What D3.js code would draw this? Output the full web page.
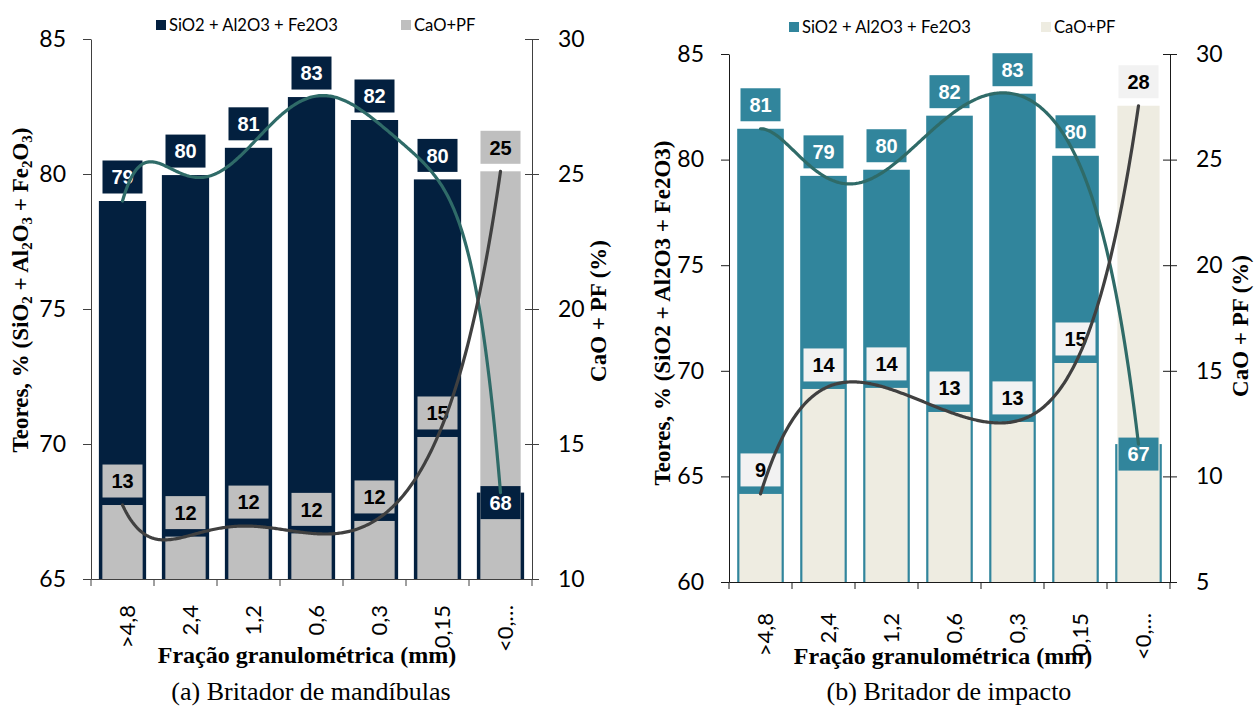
<!DOCTYPE html>
<html>
<head>
<meta charset="utf-8">
<script src="https://cdn.jsdelivr.net/npm/d3@7"></script>
<style>
  body { margin: 0; background: #ffffff; }
  svg { display: block; }
</style>
</head>
<body>
<svg id="chart" width="1256" height="708"></svg>
<script>
// Granulometric fractions (mm)
const categories = [">4,8", "2,4", "1,2", "0,6", "0,3", "0,15", "<0,…"];

// (a) Jaw crusher
const mandibulasSiAlFe = [79.0, 79.96, 80.97, 82.85, 82.0, 79.8, 68.2];
const mandibulasCaoPf = [12.74, 11.57, 11.96, 11.69, 12.15, 15.26, 25.1];

// (b) Impact crusher
const impactoSiAlFe = [81.46, 79.23, 79.52, 82.08, 83.12, 80.18, 66.53];
const impactoCaoPf = [9.17, 14.14, 14.19, 13.05, 12.58, 15.37, 27.55];

// Axis ticks
const mandibulasLeftTicks = [65, 70, 75, 80, 85];
const mandibulasRightTicks = [10, 15, 20, 25, 30];
const impactoLeftTicks = [60, 65, 70, 75, 80, 85];
const impactoRightTicks = [5, 10, 15, 20, 25, 30];

const legendLabels = ["SiO2 + Al2O3 + Fe2O3", "CaO+PF"];

const svg = d3.select("#chart");
const tickFont = "Lato, 'Open Sans', sans-serif";
const serifFont = "'Liberation Serif', 'Times New Roman', serif";
const labelFont = "'Liberation Sans', Arial, sans-serif";

// Least-squares polynomial trendline (centred abscissa for stability)
function polyTrend(values, order) {
  const n = values.length;
  const mid = (n - 1) / 2;
  const m = Math.min(order, n - 1) + 1;
  const A = Array.from({ length: m }, () => new Array(m + 1).fill(0));
  values.forEach((v, i) => {
    const t = i - mid;
    const p = [];
    for (let k = 0; k < m; k++) p.push(Math.pow(t, k));
    for (let r = 0; r < m; r++) {
      for (let c = 0; c < m; c++) A[r][c] += p[r] * p[c];
      A[r][m] += p[r] * v;
    }
  });
  for (let col = 0; col < m; col++) {
    let piv = col;
    for (let r = col + 1; r < m; r++) if (Math.abs(A[r][col]) > Math.abs(A[piv][col])) piv = r;
    [A[col], A[piv]] = [A[piv], A[col]];
    for (let r = 0; r < m; r++) {
      if (r === col) continue;
      const f = A[r][col] / A[col][col];
      for (let c = col; c <= m; c++) A[r][c] -= f * A[col][c];
    }
  }
  const coef = A.map((row, i) => row[m] / row[i]);
  return t => coef.reduce((s, a, k) => s + a * Math.pow(t - mid, k), 0);
}

function drawPanel(cfg) {
  const g = svg.append("g");
  const x = d3.scaleBand().domain(categories).range([cfg.left, cfg.right]).padding(0);
  const bw = x.bandwidth();
  const yL = d3.scaleLinear().domain(d3.extent(cfg.leftTicks)).range([cfg.bottom, cfg.top]);
  const yR = d3.scaleLinear().domain(d3.extent(cfg.rightTicks)).range([cfg.bottom, cfg.top]);
  const fmt = d3.format(".0f");

  const mainW = bw * cfg.mainWidth;
  const secW = bw * cfg.secWidth;

  // primary columns (SiO2 + Al2O3 + Fe2O3)
  g.append("g").selectAll("rect").data(cfg.main).join("rect")
    .attr("x", (d, i) => x(categories[i]) + (bw - mainW) / 2)
    .attr("width", mainW)
    .attr("y", d => yL(d))
    .attr("height", d => cfg.bottom - yL(d))
    .attr("fill", cfg.mainColor);

  // secondary columns (CaO + PF), drawn in front
  g.append("g").selectAll("rect").data(cfg.sec).join("rect")
    .attr("x", (d, i) => x(categories[i]) + (bw - secW) / 2)
    .attr("width", secW)
    .attr("y", d => yR(d))
    .attr("height", d => cfg.bottom - yR(d))
    .attr("fill", cfg.secColor);

  // value labels; a back column hidden by the front one gets its label just inside its top
  const boxW = 40, boxH = 33, gap = 7.5;
  function labels(values, scale, front, frontScale, fill, textFill) {
    const lg = g.append("g");
    values.forEach((v, i) => {
      const cx = x(categories[i]) + bw / 2;
      const top = scale(v);
      const hidden = front ? frontScale(front[i]) < top - boxH : false;
      const cy = hidden ? top + 10 : top - gap - boxH / 2;
      lg.append("rect")
        .attr("x", cx - boxW / 2).attr("y", cy - boxH / 2)
        .attr("width", boxW).attr("height", boxH)
        .attr("fill", fill);
      lg.append("text")
        .attr("x", cx).attr("y", cy).attr("dy", "0.36em")
        .attr("text-anchor", "middle")
        .attr("font-family", labelFont).attr("font-weight", "bold")
        .attr("font-size", 20).attr("fill", textFill)
        .text(fmt(v));
    });
  }
  labels(cfg.main, yL, cfg.sec, yR, cfg.mainLabelFill, "#ffffff");
  labels(cfg.sec, yR, null, null, cfg.secLabelFill, "#000000");

  // order-6 polynomial trendlines
  const n = categories.length;
  const xt = d3.scaleLinear().domain([0, n - 1])
    .range([x(categories[0]) + bw / 2, x(categories[n - 1]) + bw / 2]);
  const ts = d3.range(0, n - 1 + 1e-9, 0.02);
  function trend(values, scale, color) {
    const f = polyTrend(values, 6);
    g.append("path")
      .datum(ts)
      .attr("d", d3.line().x(t => xt(t)).y(t => scale(f(t))))
      .attr("fill", "none")
      .attr("stroke", color)
      .attr("stroke-width", 3.2)
      .attr("stroke-linecap", "round");
  }
  trend(cfg.main, yL, cfg.mainTrend);
  trend(cfg.sec, yR, cfg.secTrend);

  // axes
  const axisColor = cfg.axisColor;
  const leftAxis = g.append("g")
    .attr("transform", `translate(${cfg.left},0)`)
    .call(d3.axisLeft(yL).tickValues(cfg.leftTicks).tickSize(8).tickSizeOuter(0).tickPadding(17));
  const rightAxis = g.append("g")
    .attr("transform", `translate(${cfg.right},0)`)
    .call(d3.axisRight(yR).tickValues(cfg.rightTicks).tickSize(7).tickSizeOuter(0).tickPadding(19));
  rightAxis.selectAll(".tick line").attr("x1", -7);

  const bottomAxis = g.append("g")
    .attr("transform", `translate(0,${cfg.bottom})`)
    .call(d3.axisBottom(x).tickSize(0).tickSizeOuter(0).tickPadding(0));
  bottomAxis.selectAll(".tick text")
    .attr("transform", "rotate(-90)")
    .attr("x", -cfg.labelOffset)
    .attr("y", 0)
    .attr("dy", "0.55em")
    .attr("text-anchor", "end");
  // category boundary ticks
  bottomAxis.append("g").selectAll("line")
    .data(d3.range(n + 1)).join("line")
    .attr("x1", i => cfg.left + i * bw).attr("x2", i => cfg.left + i * bw)
    .attr("y1", 0).attr("y2", 7)
    .attr("stroke", axisColor);

  [leftAxis, rightAxis, bottomAxis].forEach(a => {
    a.selectAll(".domain").attr("stroke", axisColor);
    a.selectAll(".tick line").attr("stroke", axisColor);
    a.selectAll(".tick text")
      .attr("font-family", tickFont)
      .attr("fill", "#000");
  });
  leftAxis.selectAll(".tick text").attr("font-size", 23);
  rightAxis.selectAll(".tick text").attr("font-size", 23);
  bottomAxis.selectAll(".tick text").attr("font-size", 22);

  // legend
  const lgd = g.append("g").attr("font-family", tickFont).attr("font-size", 16.6);
  cfg.legendX.forEach((lx, i) => {
    lgd.append("rect").attr("x", lx).attr("y", cfg.legendY - 11)
      .attr("width", 10).attr("height", 10)
      .attr("fill", i === 0 ? cfg.mainColor : cfg.secColor);
    lgd.append("text").attr("x", lx + 13).attr("y", cfg.legendY)
      .attr("fill", "#000").text(legendLabels[i]);
  });

  // axis titles (subscripts shifted below the baseline, then restored)
  const lt = g.append("text")
    .attr("transform", `translate(${cfg.leftTitleX},${cfg.leftTitleY}) rotate(-90)`)
    .attr("text-anchor", "middle")
    .attr("font-family", serifFont).attr("font-weight", "bold").attr("font-size", 23)
    .attr("fill", "#000");
  let shift = 0;
  cfg.leftTitle.forEach(part => {
    const span = lt.append("tspan").text(part.t);
    if (part.sub) {
      span.attr("font-size", 15).attr("dy", 4 - shift);
      shift = 4;
    } else {
      span.attr("dy", -shift);
      shift = 0;
    }
  });

  g.append("text")
    .attr("transform", `translate(${cfg.rightTitleX},${cfg.rightTitleY}) rotate(-90)`)
    .attr("text-anchor", "middle")
    .attr("font-family", serifFont).attr("font-weight", "bold").attr("font-size", 23)
    .attr("fill", "#000").text("CaO + PF (%)");

  g.append("text")
    .attr("x", cfg.xTitleX).attr("y", cfg.xTitleY)
    .attr("text-anchor", "middle")
    .attr("font-family", serifFont).attr("font-weight", "bold").attr("font-size", 24)
    .attr("fill", "#000").text("Fração granulométrica (mm)");

  g.append("text")
    .attr("x", cfg.captionX).attr("y", 700)
    .attr("text-anchor", "middle")
    .attr("font-family", serifFont).attr("font-size", 26)
    .attr("fill", "#000").text(cfg.caption);
}

drawPanel({
  main: mandibulasSiAlFe, sec: mandibulasCaoPf,
  leftTicks: mandibulasLeftTicks, rightTicks: mandibulasRightTicks,
  left: 91, right: 532, top: 39, bottom: 579,
  mainWidth: 0.75, secWidth: 0.64,
  mainColor: "#03203f", secColor: "#bfbfbf",
  mainLabelFill: "#03203f", secLabelFill: "#bfbfbf",
  mainTrend: "#2f6b68", secTrend: "#404040",
  axisColor: "#404040",
  labelOffset: 26,
  legendX: [156, 401], legendY: 31,
  leftTitle: [
    { t: "Teores, % (SiO" }, { t: "2", sub: true }, { t: " + Al" }, { t: "2", sub: true },
    { t: "O" }, { t: "3", sub: true }, { t: " + Fe" }, { t: "2", sub: true },
    { t: "O" }, { t: "3", sub: true }, { t: ")" }
  ],
  leftTitleX: 28, leftTitleY: 290,
  rightTitleX: 606, rightTitleY: 311,
  xTitleX: 307, xTitleY: 663,
  captionX: 311,
  caption: "(a) Britador de mandíbulas"
});

drawPanel({
  main: impactoSiAlFe, sec: impactoCaoPf,
  leftTicks: impactoLeftTicks, rightTicks: impactoRightTicks,
  left: 729, right: 1170, top: 54, bottom: 582,
  mainWidth: 0.74, secWidth: 0.67,
  mainColor: "#31859c", secColor: "#eeece1",
  mainLabelFill: "#31859c", secLabelFill: "#f2f2f2",
  mainTrend: "#2f6b68", secTrend: "#404040",
  axisColor: "#1a1a1a",
  labelOffset: 31,
  legendX: [789, 1041], legendY: 33,
  leftTitle: [{ t: "Teores, % (SiO2 + Al2O3 + Fe2O3)" }],
  leftTitleX: 670, leftTitleY: 313,
  rightTitleX: 1248, rightTitleY: 326,
  xTitleX: 943, xTitleY: 664,
  captionX: 949,
  caption: "(b) Britador de impacto"
});
</script>
</body>
</html>
